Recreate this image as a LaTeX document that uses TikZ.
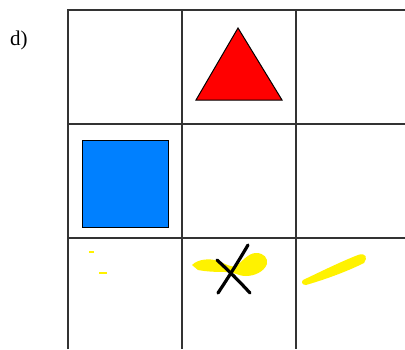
\documentclass[tikz,border=0pt]{standalone}
\usepackage{fontspec}
\setmainfont{Liberation Serif}
\begin{document}
\begin{tikzpicture}[x=1pt,y=-1pt,
  gridline/.style={draw=black!80,line width=1.6pt},
  shapeline/.style={draw=black,line width=1pt},
  spray/.style={fill=yellow,draw=none},
  cross/.style={draw=black,line width=3.2pt,line cap=round}]
\useasboundingbox[fill=white] (0,0) rectangle (405,349);
% label
\node[font=\fontsize{21}{24}\selectfont,anchor=west,inner sep=0pt] (lab) at (10,40) {d)};
% grid
\draw[gridline] (68,349) -- (68,10) -- (405,10);
\draw[gridline] (182,10) -- (182,349);
\draw[gridline] (296,10) -- (296,349);
\draw[gridline] (68,124) -- (405,124);
\draw[gridline] (68,238) -- (405,238);
% triangle
\draw[shapeline,fill=red] (238,28) -- (282,100) -- (196,100) -- cycle;
% blue square
\draw[shapeline,fill={rgb,255:red,0;green,128;blue,255}] (82,140) rectangle (168,227);
% stray yellow dots
\fill[yellow] (89,251) rectangle (94,253);
\fill[yellow] (99,272) rectangle (107,274);
% yellow spray with cross (bow-tie shape)
\fill[spray] (192,265) .. controls (198,259) and (210,258) .. (218,261)
  .. controls (226,264) and (232,268) .. (236,266)
  .. controls (242,262) and (248,253) .. (256,253)
  .. controls (264,253) and (268,258) .. (267,264)
  .. controls (264,272) and (254,276) .. (246,276)
  .. controls (238,276) and (234,272) .. (228,272)
  .. controls (220,272) and (208,272) .. (198,270) -- cycle;
\draw[cross] (248,245) .. controls (238,262) and (228,278) .. (218,293);
\draw[cross] (217,260) .. controls (228,270) and (240,282) .. (250,293);
% yellow streak in third cell
\fill[spray] (303,280) .. controls (320,272) and (340,262) .. (358,255)
  .. controls (366,252) and (368,258) .. (364,263)
  .. controls (350,270) and (330,278) .. (306,285)
  .. controls (302,285) and (301,282) .. (303,280) -- cycle;
\end{tikzpicture}
\end{document}
